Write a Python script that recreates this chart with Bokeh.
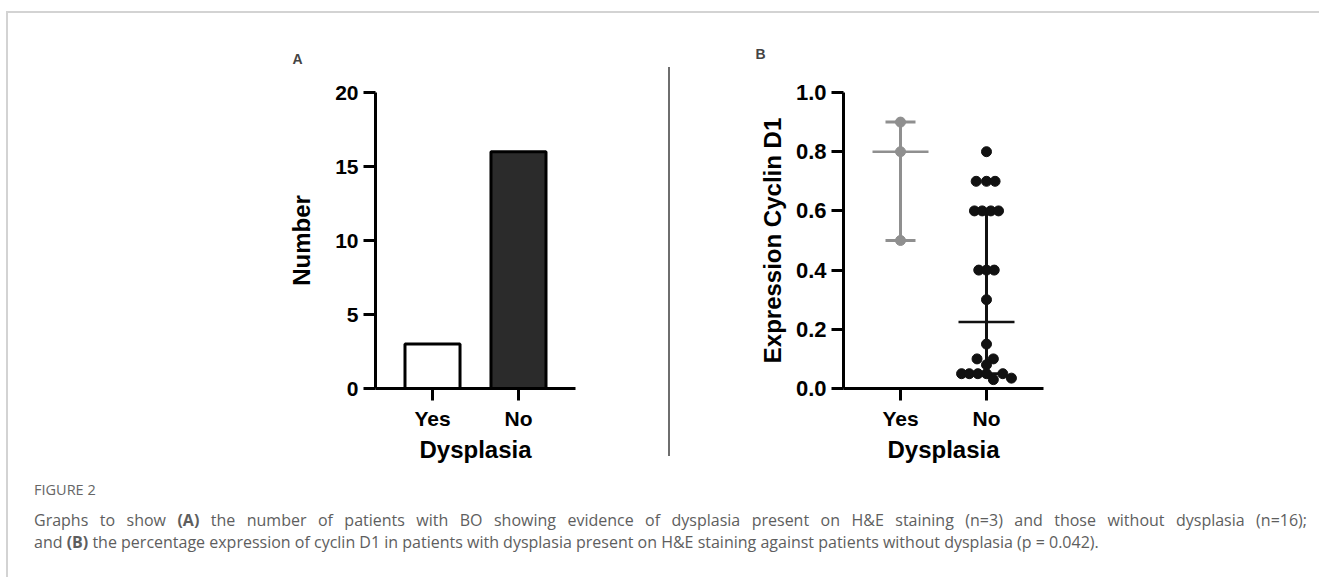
from bokeh.plotting import figure
from bokeh.models import (FactorRange, Range1d, Div, Whisker, TeeHead, ColumnDataSource,
                          FixedTicker, NumeralTickFormatter)
from bokeh.layouts import row, column
from bokeh.embed import file_html
from bokeh.resources import INLINE

# ---------------- data ----------------
categories = ["Yes", "No"]
counts = [3, 16]

yes_values = [0.9, 0.8, 0.5]
yes_offsets = [0.0, 0.0, 0.0]

no_values = [0.8,
             0.7, 0.7, 0.7,
             0.6, 0.6, 0.6, 0.6,
             0.4, 0.4, 0.4,
             0.3, 0.15,
             0.1, 0.1,
             0.08,
             0.05, 0.05, 0.05, 0.05, 0.05,
             0.03, 0.035]
no_offsets = [0.0,
              -0.12, 0.0, 0.10,
              -0.14, -0.05, 0.05, 0.14,
              -0.09, 0.0, 0.09,
              0.0, 0.0,
              -0.11, 0.08,
              0.0,
              -0.29, -0.20, -0.10, 0.0, 0.19,
              0.08, 0.29]

medians = [0.8, 0.225]
lower = [0.5, 0.05]
upper = [0.9, 0.6]
group_colors = ["#8f8f8f", "#111111"]

FONT = "Liberation Sans"


def style_axes(p):
    for ax in (p.xaxis[0], p.yaxis[0]):
        ax.axis_line_width = 3
        ax.axis_line_color = "black"
        ax.major_tick_line_width = 3
        ax.major_tick_line_color = "black"
        ax.major_tick_out = 12
        ax.major_tick_in = 0
        ax.minor_tick_line_color = None
        ax.major_label_text_font = FONT
        ax.major_label_text_font_style = "bold"
        ax.major_label_text_font_size = "21px"
        ax.major_label_text_color = "black"
        ax.axis_label_text_font = FONT
        ax.axis_label_text_font_style = "bold"
        ax.axis_label_text_font_size = "24px"
        ax.axis_label_text_color = "black"
    p.xaxis.major_label_standoff = 6
    p.yaxis.major_label_standoff = 5
    p.xaxis.axis_label_standoff = 3
    p.grid.visible = False
    p.outline_line_color = None
    p.title.text_font = FONT
    p.title.text_font_style = "bold"
    p.title.text_font_size = "14px"
    p.title.align = "left"


# ---------------- panel A ----------------
xa = FactorRange(factors=categories, range_padding=0.163, range_padding_units="absolute")
pa = figure(x_range=xa, y_range=Range1d(0, 20), width=315, height=457,
            min_border_left=95, min_border_right=20, min_border_top=72, min_border_bottom=82,
            output_backend="svg", toolbar_location=None, title="A")
pa.margin = (0, 0, 0, 272)
style_axes(pa)
pa.title.offset = -83
pa.title.standoff = 51
src_a = ColumnDataSource(dict(cat=categories, n=counts, fill=["white", "#2b2b2b"]))
pa.vbar(x="cat", top="n", width=0.64, source=src_a, fill_color="fill",
        line_color="black", line_width=3)
pa.yaxis.ticker = FixedTicker(ticks=[0, 5, 10, 15, 20])
pa.yaxis.axis_label = "Number"
pa.xaxis.axis_label = "Dysplasia"
pa.yaxis.axis_label_standoff = 17

# ---------------- panel B ----------------
xb = FactorRange(factors=categories, range_padding=0.163, range_padding_units="absolute")
pb = figure(x_range=xb, y_range=Range1d(0, 1), width=313, height=457,
            min_border_left=93, min_border_right=20, min_border_top=79, min_border_bottom=78,
            output_backend="svg", toolbar_location=None, title="B")
pb.margin = (0, 0, 0, 80)
style_axes(pb)
pb.yaxis.major_label_text_font_size = "22px"
pb.title.offset = -88
pb.title.standoff = 61
pb.yaxis.ticker = FixedTicker(ticks=[0, 0.2, 0.4, 0.6, 0.8, 1.0])
pb.yaxis.formatter = NumeralTickFormatter(format="0.0")
pb.yaxis.axis_label = "Expression Cyclin D1"
pb.xaxis.axis_label = "Dysplasia"
pb.yaxis.axis_label_standoff = 7

for i, cat in enumerate(categories):
    ws = ColumnDataSource(dict(base=[cat], lower=[lower[i]], upper=[upper[i]]))
    w = Whisker(base="base", lower="lower", upper="upper", source=ws,
                line_color=group_colors[i], line_width=3,
                upper_head=TeeHead(size=30, line_color=group_colors[i], line_width=3),
                lower_head=TeeHead(size=30, line_color=group_colors[i], line_width=3))
    pb.add_layout(w)

pb.scatter(x=categories, y=medians, marker="dash", size=56,
           line_color=group_colors, line_width=2.5)

yes_x = [(c, o) for c, o in zip(["Yes"] * len(yes_values), yes_offsets)]
no_x = [(c, o) for c, o in zip(["No"] * len(no_values), no_offsets)]
pb.scatter(x=yes_x, y=yes_values, size=10, fill_color=group_colors[0],
           line_color=group_colors[0])
pb.scatter(x=no_x, y=no_values, size=10, fill_color=group_colors[1],
           line_color=group_colors[1])

# ---------------- frame, divider, caption ----------------
top_line = Div(text="", width=1313, height=2, margin=(11, 0, 0, 6),
               styles={"background-color": "#d3d3d3"})
left_line = Div(text="", width=2, height=564, margin=(0, 0, 0, 6),
                styles={"background-color": "#d3d3d3"})
divider = Div(text="", width=2, height=389, margin=(54, 0, 0, 73),
              styles={"background-color": "#6e6e6e"})

caption_html = (
    '<div style="font-family: \'Open Sans\'; color:#5e5e5e; width:1273px;">'
    '<div style="font-size:14.5px; color:#666666; margin-bottom:8px;">FIGURE 2</div>'
    '<div style="font-size:16px; line-height:22px; text-align:justify; text-align-last:justify;">'
    'Graphs to show <b>(A)</b> the number of patients with BO showing evidence of dysplasia '
    'present on H&amp;E staining (n=3) and those without dysplasia (n=16);</div>'
    '<div style="font-size:16px; line-height:22px;">'
    'and <b>(B)</b> the percentage expression of cyclin D1 in patients with dysplasia present '
    'on H&amp;E staining against patients without dysplasia (p = 0.042).'
    '</div></div>'
)
caption = Div(text=caption_html, width=1285, height=90, margin=(10, 0, 0, 26))

panels = row(pa, divider, pb)
inner = column(panels, caption)
layout = column(top_line, row(left_line, inner))

open("out.html", "w").write(file_html(layout, INLINE))
